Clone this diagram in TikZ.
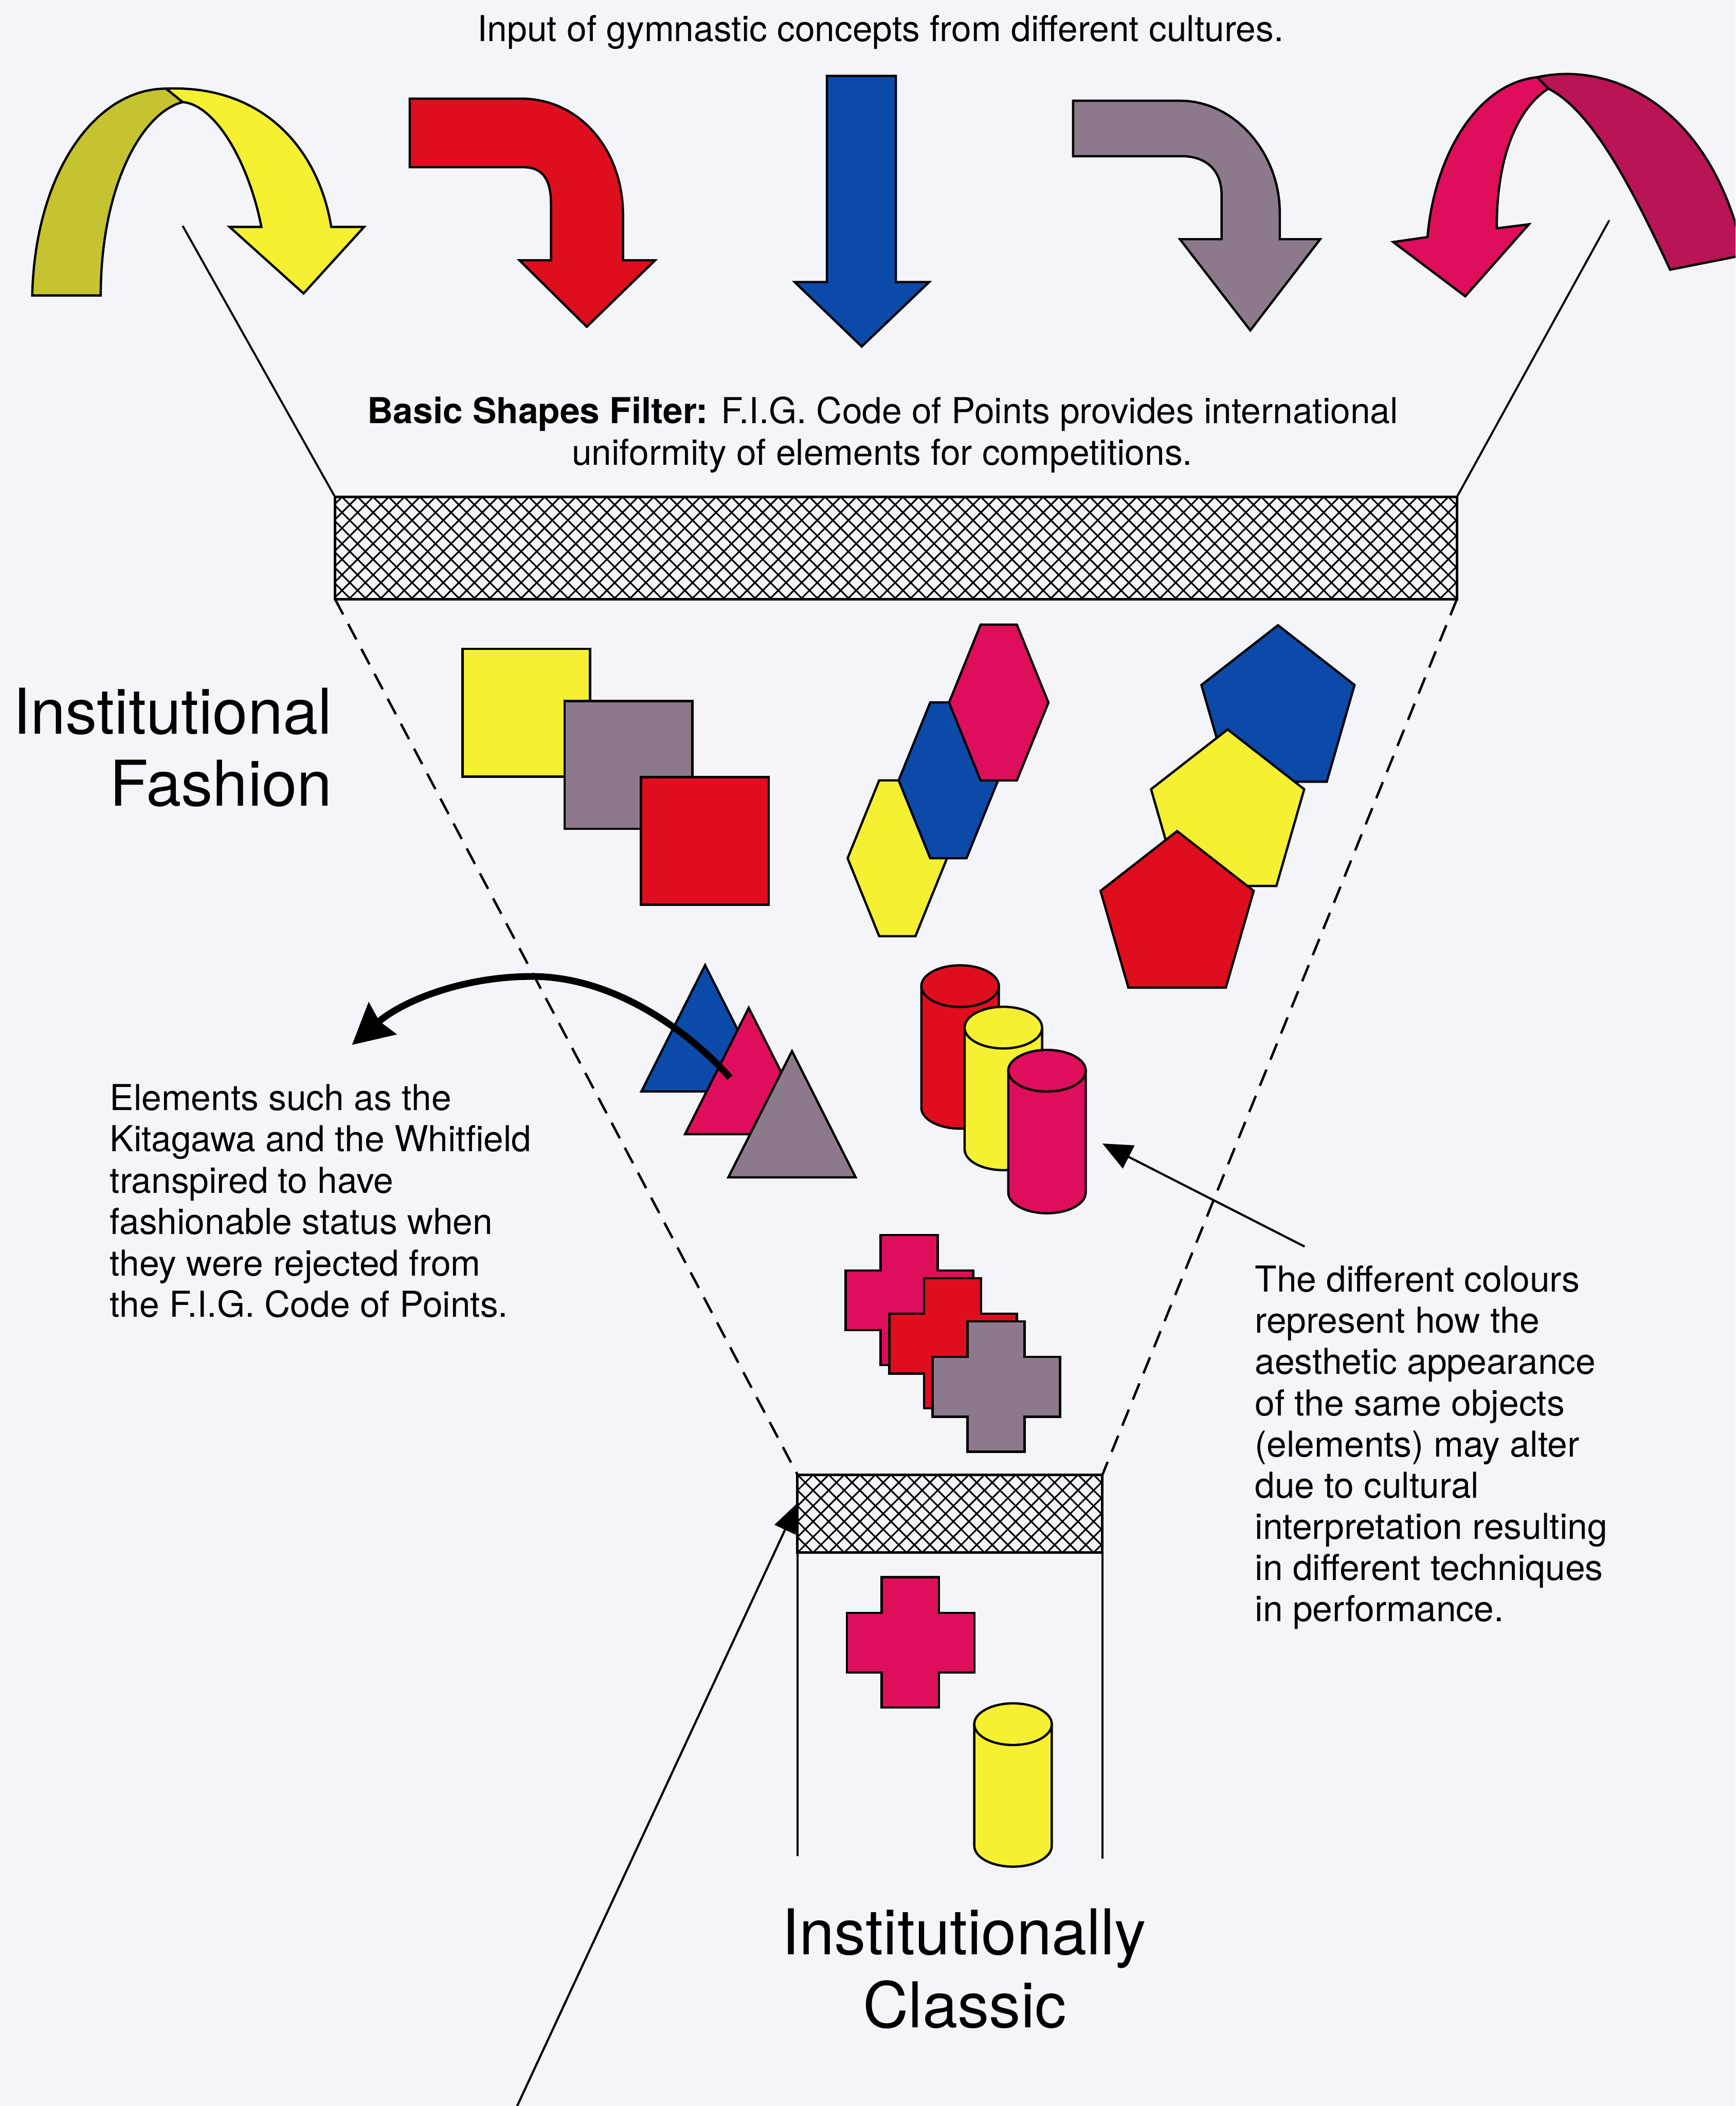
\documentclass[tikz,border=0pt]{standalone}
\usepackage{fontspec}
\setmainfont{TeX Gyre Heros}
\usetikzlibrary{arrows.meta}

\definecolor{paper}{RGB}{243,245,250}
\definecolor{cyellow}{RGB}{245,240,50}
\definecolor{colive}{RGB}{197,195,48}
\definecolor{cred}{RGB}{222,14,30}
\definecolor{cblue}{RGB}{12,74,170}
\definecolor{cgray}{RGB}{140,122,140}
\definecolor{cpink}{RGB}{222,14,92}
\definecolor{cmagenta}{RGB}{184,20,86}

% element outlines
\tikzset{
  elem/.style={draw=black, line width=1.7pt, line join=miter},
  note/.style={font=\fontsize{26.6pt}{30.7pt}\selectfont, inner sep=0pt},
  big/.style={font=\fontsize{47pt}{54pt}\selectfont, inner sep=0pt},
  funnel/.style={line width=1.5pt},
  funneldash/.style={line width=1.8pt, dash pattern=on 13pt off 8pt},
  mesh/.style={line width=1.2pt},
}

% square, top-left corner
\newcommand\elsq[3]{\filldraw[elem, fill=#3] (#1,#2) rectangle (#1+95,#2+95);}
% hexagon, centre
\newcommand\elhex[3]{\filldraw[elem, fill=#3] (#1-13.5,#2-58) -- (#1+13.5,#2-58) -- (#1+37,#2) -- (#1+13.5,#2+58) -- (#1-13.5,#2+58) -- (#1-37,#2) -- cycle;}
% pentagon, top vertex
\newcommand\elpent[3]{\filldraw[elem, fill=#3] (#1,#2) -- (#1+57,#2+44.5) -- (#1+36.3,#2+116.5) -- (#1-36.3,#2+116.5) -- (#1-57,#2+44.5) -- cycle;}
% triangle, apex
\newcommand\eltri[3]{\filldraw[elem, fill=#3] (#1,#2) -- (#1+47.4,#2+94) -- (#1-47.4,#2+94) -- cycle;}
% cross, top-left of its box
\newcommand\elcross[3]{\filldraw[elem, fill=#3] (#1+26,#2) -- (#1+68.5,#2) -- (#1+68.5,#2+26.5) -- (#1+95,#2+26.5) -- (#1+95,#2+71) -- (#1+68.5,#2+71) -- (#1+68.5,#2+97) -- (#1+26,#2+97) -- (#1+26,#2+71) -- (#1,#2+71) -- (#1,#2+26.5) -- (#1+26,#2+26.5) -- cycle;}
% cylinder, left edge and top of lid
\newcommand\elcyl[3]{%
  \filldraw[elem, fill=#3] (#1,#2+15.5) -- (#1,#2+106.1)
    .. controls (#1,#2+114.66) and (#1+12.92,#2+121.6) .. (#1+28.85,#2+121.6)
    .. controls (#1+44.78,#2+121.6) and (#1+57.7,#2+114.66) .. (#1+57.7,#2+106.1)
    -- (#1+57.7,#2+15.5) -- cycle;
  \filldraw[elem, fill=#3] (#1+28.85,#2+15.5) ellipse [x radius=28.85pt, y radius=15.5pt];
}
% cross-hatched filter bar
\newcommand\meshbar[4]{%
  \begin{scope}
    \clip (#1,#2) rectangle (#3,#4);
    \pgfmathsetmacro\hh{#4-#2}
    \pgfmathsetmacro\xa{#1-\hh}
    \pgfmathsetmacro\xb{\xa+11.6}
    \pgfmathsetmacro\xe{#3+\hh}
    \foreach \x in {\xa,\xb,...,\xe}{
      \draw[mesh] (\x,#2) -- ++(\hh,\hh);
      \draw[mesh] (\x,#2) -- ++(-\hh,\hh);
    }
  \end{scope}
  \draw[line width=1.9pt] (#1,#2) rectangle (#3,#4);
}

\begin{document}
\begin{tikzpicture}[x=1pt, y=-1pt]
\useasboundingbox (0,0) rectangle (1292,1568);
\clip (0,0) rectangle (1292,1568);
\fill[paper] (0,0) rectangle (1292,1568);

% ---- incoming arrows ----
% yellow ribbon arrow
\filldraw[elem, fill=colive] (24,220) .. controls (26,130) and (70,66) .. (123.7,66)
  -- (136,76) .. controls (105,84) and (75,140) .. (75,220) -- cycle;
\filldraw[elem, fill=cyellow] (123.7,66) .. controls (195,63) and (237,110) .. (246.6,169)
  -- (271,169) -- (226,218.5) -- (171,169) -- (194.6,169)
  .. controls (185,120) and (160,78) .. (136,76) -- cycle;
% red bent arrow
\filldraw[elem, fill=cred] (305,73.4) -- (387.6,73.4) .. controls (432,73.4) and (463.8,112) .. (463.8,160)
  -- (463.8,193.8) -- (487.7,193.8) -- (436.8,243.3) -- (386.7,193.8) -- (410.2,193.8) -- (410.2,152)
  .. controls (410.2,135) and (405,124.5) .. (389.6,124.5) -- (305,124.5) -- cycle;
% blue straight arrow
\filldraw[elem, fill=cblue] (615.6,56.5) -- (666.9,56.5) -- (666.9,210) -- (691.7,210)
  -- (641.5,258) -- (591.6,210) -- (615.6,210) -- cycle;
% grey bent arrow
\filldraw[elem, fill=cgray] (798.9,75) -- (878.4,75) .. controls (920,75) and (952.7,115) .. (952.7,158)
  -- (952.7,178.1) -- (982.8,178.1) -- (930.8,246) -- (878.4,178.1) -- (909.4,178.1) -- (909.4,145)
  .. controls (909.4,127) and (898,116.3) .. (880,116.3) -- (798.9,116.3) -- cycle;
% pink ribbon arrow
\filldraw[elem, fill=cmagenta] (1144.4,57.5) .. controls (1200,45) and (1275,80) .. (1298,190)
  -- (1243.3,200.8) .. controls (1215,140) and (1185,82) .. (1152.6,66) -- cycle;
\filldraw[elem, fill=cpink] (1144.4,57.5) .. controls (1100,62) and (1068,115) .. (1062.7,176.5)
  -- (1037.2,180.2) -- (1090.8,220.6) -- (1138.2,167) -- (1114.3,170)
  .. controls (1114,120) and (1128,82) .. (1152.6,66) -- cycle;

% ---- funnel ----
\coordinate (barTL) at (249.4,370);
\coordinate (barBR) at (1084.6,446);
\coordinate (barTR) at (1084.6,370);
\coordinate (barBL) at (249.4,446);
\coordinate (sbarTL) at (593.7,1098);
\coordinate (sbarTR) at (820.7,1098);
\coordinate (sbarBL) at (593.7,1156);
\coordinate (sbarBR) at (820.7,1156);
\coordinate (lfunnel) at (136,168.2);
\coordinate (rfunnel) at (1198,164);
\coordinate (colL) at (593.7,1382);
\coordinate (colR) at (820.7,1384);

\draw[funnel] (lfunnel) -- (barTL);
\draw[funnel] (rfunnel) -- (barTR);
\meshbar{249.4}{370}{1084.6}{446}
\draw[funneldash] (barBL) -- (sbarTL);
\draw[funneldash] (barBR) -- (sbarTR);
\meshbar{593.7}{1098}{820.7}{1156}
\draw[funnel] (sbarBL) -- (colL);
\draw[funnel] (sbarBR) -- (colR);

% ---- elements ----
\elsq{344.3}{483.2}{cyellow}
\elsq{420.4}{522}{cgray}
\elsq{477.2}{578.6}{cred}

\elhex{668}{639}{cyellow}
\elhex{706}{581}{cblue}
\elhex{743.5}{523.1}{cpink}

\elpent{951.4}{465.5}{cblue}
\elpent{913.9}{543.1}{cyellow}
\elpent{876.3}{618.8}{cred}

\eltri{524.9}{718.6}{cblue}
\eltri{557.4}{750.4}{cpink}
\eltri{589.6}{782.6}{cgray}

\elcyl{685.9}{718.7}{cred}
\elcyl{718.1}{749.6}{cyellow}
\elcyl{750.6}{781.7}{cpink}

\elcross{629.5}{919.4}{cpink}
\elcross{662}{951.6}{cred}
\elcross{694.2}{983.8}{cgray}

\elcross{630.4}{1174.3}{cpink}
\elcyl{725.3}{1268.2}{cyellow}

% ---- texts ----
\node[note, anchor=base] (title) at (655.5,31) {Input of gymnastic concepts from different cultures.};
\node[note, anchor=base] (filter1) at (657.2,315.4) {\textbf{Basic Shapes Filter:} F.I.G. Code of Points provides international};
\node[note, anchor=base] (filter2) at (656.8,346.3) {uniformity of elements for competitions.};

\node[big, anchor=base east] (fashion1) at (247.4,546.3) {Institutional};
\node[big, anchor=base east] (fashion2) at (247.4,600) {Fashion};
\node[big, anchor=base] (classic1) at (717.6,1455.2) {Institutionally};
\node[big, anchor=base] (classic2) at (718.2,1509.6) {Classic};

\foreach \t [count=\i from 0] in {{Elements such as the},{Kitagawa and the Whitfield},{transpired to have},{fashionable status when},{they were rejected from},{the F.I.G. Code of Points.}}
  \node[note, anchor=base west] (leftnote-\i) at (81.6,826.7+30.77*\i) {\t};

\foreach \t [count=\i from 0] in {{The different colours},{represent how the},{aesthetic appearance},{of the same objects},{(elements) may alter},{due to cultural},{interpretation resulting},{in different techniques},{in performance.}}
  \node[note, anchor=base west] (rightnote-\i) at (934.1,961.9+30.66*\i) {\t};

% ---- pointers ----
\coordinate (arcstart) at (543.4,802.3);
\coordinate (arctop) at (396,727);
\coordinate (arcend) at (262,778);
\draw[line width=5pt, -{Stealth[length=30pt, width=31pt, inset=3pt]}]
  (arcstart) .. controls (510,765) and (455,727) .. (arctop)
  .. controls (345,727) and (300,745) .. (arcend);

\coordinate (cyltail) at (971.2,928.1);
\coordinate (cyltip) at (820.7,851.4);
\draw[line width=1.6pt, -{Triangle[length=22pt, width=19pt]}] (cyltail) -- (cyltip);

\coordinate (basetail) at (385,1568);
\coordinate (basetip) at (593.7,1119);
\draw[line width=1.6pt, -{Triangle[length=22pt, width=17pt]}] (basetail) -- (basetip);
\end{tikzpicture}
\end{document}
